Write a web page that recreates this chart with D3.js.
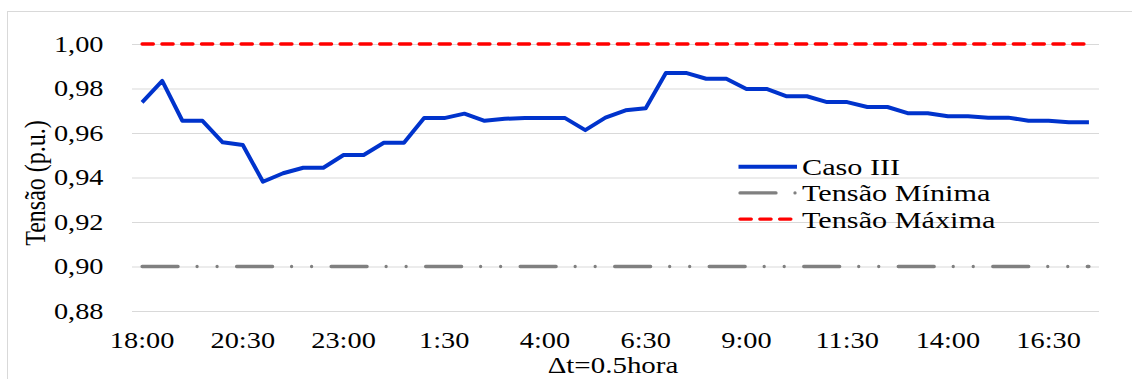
<!DOCTYPE html>
<html>
<head>
<meta charset="utf-8">
<script src="https://cdn.jsdelivr.net/npm/d3@7"></script>
<style>
  html, body { margin: 0; padding: 0; background: #fff; }
  svg { display: block; }
  text { font-family: "Liberation Serif", "Times New Roman", serif; fill: #000; }
</style>
</head>
<body>
<svg id="chart" width="1132" height="379"></svg>
<script>
// ---- data ----
const categories = [
  "18:00","18:30","19:00","19:30","20:00","20:30","21:00","21:30","22:00","22:30",
  "23:00","23:30","0:00","0:30","1:00","1:30","2:00","2:30","3:00","3:30",
  "4:00","4:30","5:00","5:30","6:00","6:30","7:00","7:30","8:00","8:30",
  "9:00","9:30","10:00","10:30","11:00","11:30","12:00","12:30","13:00","13:30",
  "14:00","14:30","15:00","15:30","16:00","16:30","17:00","17:30"
];
const casoIII = [
  0.9738,0.9834,0.9655,0.9655,0.9558,0.9546,0.9381,0.9419,0.9444,0.9444,
  0.9501,0.9501,0.9556,0.9556,0.9667,0.9667,0.9687,0.9655,0.9664,0.9667,
  0.9667,0.9667,0.9613,0.9669,0.9702,0.9711,0.9870,0.9870,0.9844,0.9844,
  0.9798,0.9798,0.9765,0.9765,0.9739,0.9739,0.9717,0.9717,0.9689,0.9689,
  0.9675,0.9675,0.9669,0.9669,0.9655,0.9655,0.9648,0.9648
];
const tensaoMinima = 0.90;
const tensaoMaxima = 1.00;
const xTickLabels = ["18:00","20:30","23:00","1:30","4:00","6:30","9:00","11:30","14:00","16:30"];
const yTicks = [0.88, 0.90, 0.92, 0.94, 0.96, 0.98, 1.00];
const seriesNames = ["Caso III", "Tensão Mínima", "Tensão Máxima"];
const xTitle = "\u0394t=0.5hora";
const yTitle = "Tensão (p.u.)";

(function () {
// ---- layout ----
const SX = 1.26; // horizontal text stretch
const svg = d3.select("#chart");
const pLeft = 132, pRight = 1099, pTop = 44, pBottom = 311;

const x = d3.scaleBand().domain(categories).range([pLeft, pRight]).padding(0);
const xc = d => x(d) + x.bandwidth() / 2;
const y = d3.scaleLinear().domain([0.88, 1.00]).range([pBottom, pTop]);

// outer frame
svg.append("rect")
  .attr("x", 7.5).attr("y", 11.5).attr("width", 1140).attr("height", 400)
  .attr("fill", "none").attr("stroke", "#D9D9D9").attr("stroke-width", 1);

// gridlines
const gAxis = svg.append("g").attr("transform", `translate(${pLeft},0)`)
  .call(d3.axisLeft(y).tickValues(yTicks).tickSize(-(pRight - pLeft)).tickFormat(""));
gAxis.select(".domain").remove();
gAxis.selectAll(".tick line").attr("stroke", "#D9D9D9").attr("stroke-width", 1.2);

// y tick labels
const fmt = v => d3.format(".2f")(v).replace(".", ",");
svg.append("g").selectAll("text").data(yTicks).join("text")
  .attr("transform", d => `translate(103.5,${y(d)}) scale(${SX},1)`)
  .attr("text-anchor", "end")
  .attr("dy", "0.34em")
  .style("font-size", "22.5px")
  .text(fmt);

// x tick labels
svg.append("g").selectAll("text").data(xTickLabels).join("text")
  .attr("transform", d => `translate(${xc(d)},347.5) scale(${SX},1)`)
  .attr("text-anchor", "middle")
  .style("font-size", "22.5px")
  .text(d => d);

// axis titles
svg.append("text")
  .attr("transform", `translate(613,373) scale(${SX},1)`)
  .attr("text-anchor", "middle")
  .style("font-size", "23px")
  .text(xTitle);
svg.append("text")
  .attr("transform", `translate(45,183) scale(${SX},1) rotate(-90)`)
  .attr("text-anchor", "middle")
  .style("font-size", "24px")
  .text(yTitle);

// styles
const styles = [
  { color: "#0033CC", width: 4, dash: null },
  { color: "#808080", width: 3.3, dash: "36,19,0.01,20,0.01,19.5" },
  { color: "#FF0000", width: 3.3, dash: "11.3,8.5" }
];

const first = categories[0], last = categories[categories.length - 1];
// Tensão Mínima
svg.append("line")
  .attr("x1", xc(first)).attr("x2", xc(last))
  .attr("y1", y(tensaoMinima)).attr("y2", y(tensaoMinima))
  .attr("stroke", styles[1].color).attr("stroke-width", styles[1].width)
  .attr("stroke-dasharray", styles[1].dash).attr("stroke-linecap", "round");
// Tensão Máxima
svg.append("line")
  .attr("x1", xc(first)).attr("x2", xc(last))
  .attr("y1", y(tensaoMaxima)).attr("y2", y(tensaoMaxima))
  .attr("stroke", styles[2].color).attr("stroke-width", styles[2].width)
  .attr("stroke-dasharray", styles[2].dash).attr("stroke-linecap", "round");

// Caso III
const line = d3.line().x((d, i) => xc(categories[i])).y(d => y(d));
svg.append("path").datum(casoIII)
  .attr("d", line)
  .attr("fill", "none")
  .attr("stroke", styles[0].color).attr("stroke-width", styles[0].width)
  .attr("stroke-linejoin", "round").attr("stroke-linecap", "butt");

// legend
const legend = svg.append("g");
const lg = legend.selectAll("g").data(seriesNames).join("g")
  .attr("transform", (d, i) => `translate(0,${166.7 + i * 26.2})`);
lg.append("line")
  .attr("x1", (d, i) => i === 0 ? 738.5 : 740).attr("x2", (d, i) => i === 0 ? 797 : 799)
  .attr("y1", 0).attr("y2", 0)
  .attr("stroke", (d, i) => styles[i].color)
  .attr("stroke-width", (d, i) => styles[i].width)
  .attr("stroke-dasharray", (d, i) => styles[i].dash)
  .attr("stroke-linecap", (d, i) => i === 0 ? "butt" : "round");
lg.append("text")
  .attr("transform", `translate(802,8.5) scale(${SX},1)`)
  .style("font-size", "24px")
  .text(d => d);
})();
</script>
</body>
</html>
